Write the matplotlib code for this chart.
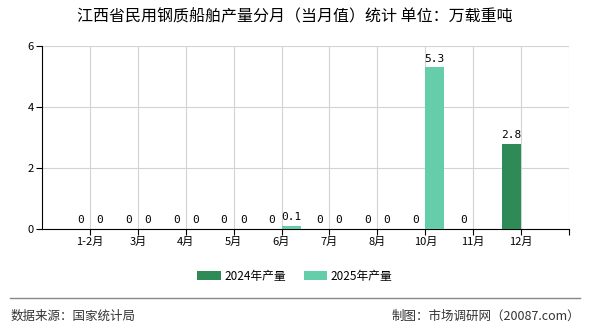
import matplotlib.pyplot as plt
import numpy as np

plt.rcParams['font.family'] = ['Noto Sans CJK SC', 'DejaVu Sans']

months = ['1-2月', '3月', '4月', '5月', '6月', '7月', '8月', '10月', '11月', '12月']
y2024 = [0, 0, 0, 0, 0, 0, 0, 0, 0, 2.8]
y2025 = [0, 0, 0, 0, 0.1, 0, 0, 5.3, None, None]

c2024 = '#2e8b57'
c2025 = '#66cdaa'

fig = plt.figure(figsize=(5.9, 3.3), dpi=100)
ax = fig.add_axes([0.0712, 0.306, 0.8932, 0.5546])

x = np.arange(1, len(months) + 1)
w = 0.4

def draw(vals, off, color, label):
    xs = [xi + off for xi, v in zip(x, vals) if v is not None]
    vs = [v for v in vals if v is not None]
    ax.bar(xs, vs, width=w, color=color, label=label, zorder=3)
    for xi, v in zip(xs, vs):
        ax.text(xi, v + 0.12, f'{v:g}', ha='center', va='bottom', fontsize=8,
                family='DejaVu Sans Mono', zorder=4)

draw(y2024, -w / 2, c2024, '2024年产量')
draw(y2025, w / 2, c2025, '2025年产量')

ax.set_xlim(0, len(months) + 1)
ax.set_ylim(0, 6)
ax.set_yticks([0, 2, 4, 6])
ax.set_xticks(list(x) + [len(months) + 1])
ax.set_xticklabels(months + [''], fontsize=8)
ax.tick_params(axis='y', labelsize=8, length=4, pad=2)
ax.tick_params(axis='x', length=4, pad=2)
ax.grid(True, color='#d3d3d3', linewidth=0.8, zorder=0)
for s in ['top', 'right']:
    ax.spines[s].set_visible(False)
ax.spines['left'].set_color('black')
ax.spines['bottom'].set_color('black')

fig.text(0.5, 0.948, '江西省民用钢质船舶产量分月（当月值）统计 单位：万载重吨',
         ha='center', va='center', fontsize=11.5, weight='medium')

fig.legend(loc='center', bbox_to_anchor=(0.5, 0.163), ncol=2, frameon=False,
           fontsize=8.5, handlelength=2.0, handleheight=0.8, columnspacing=1.5,
           handletextpad=0.3)

fig.add_artist(plt.Line2D([0.017, 0.983], [0.097, 0.097], color='#888888', linewidth=1))
fig.text(0.017, 0.042, '数据来源：国家统计局', ha='left', va='center', fontsize=9, color='#333333')
fig.text(0.983, 0.042, '制图：市场调研网（20087.com）', ha='right', va='center', fontsize=9, color='#333333')

fig.savefig('out.png', dpi=100)
